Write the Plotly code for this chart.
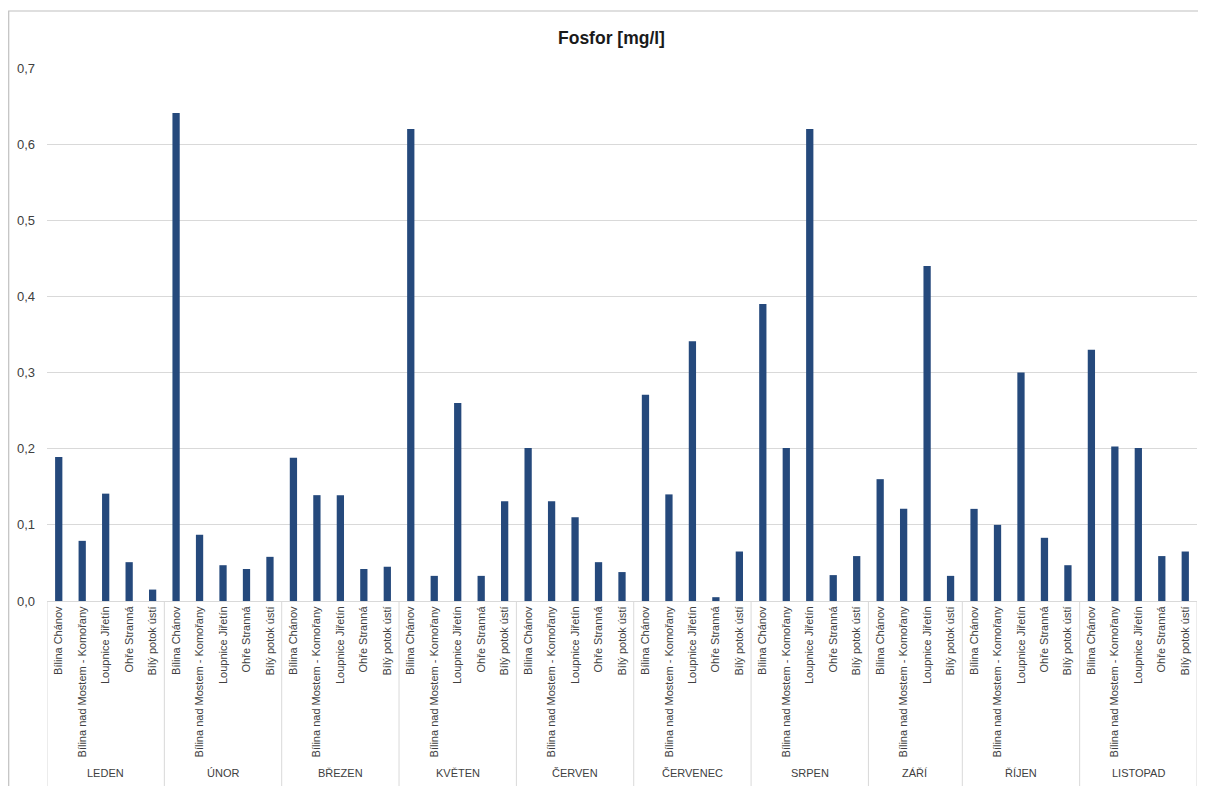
import plotly.graph_objects as go

months = ["LEDEN", "ÚNOR", "BŘEZEN", "KVĚTEN", "ČERVEN", "ČERVENEC", "SRPEN", "ZÁŘÍ", "ŘÍJEN", "LISTOPAD"]
stations = ["Bílina Chánov", "Bílina nad Mostem - Komořany", "Loupnice Jiřetín", "Ohře Stranná", "Bílý potok ústí"]

# values per month, in station order (None = no measurement)
leden = [0.189, 0.079, 0.141, 0.051, 0.015]
unor = [0.641, 0.087, 0.047, 0.042, 0.058]
brezen = [0.188, 0.139, 0.139, 0.042, 0.045]
kveten = [0.620, 0.033, 0.260, 0.033, 0.131]
cerven = [0.201, 0.131, 0.110, 0.051, 0.038]
cervenec = [0.271, 0.140, 0.341, 0.005, 0.065]
srpen = [0.390, 0.201, 0.620, 0.034, 0.059]
zari = [0.160, 0.121, 0.440, None, 0.033]
rijen = [0.121, 0.100, 0.300, 0.083, 0.047]
listopad = [0.330, 0.203, 0.201, 0.059, 0.065]

month_values = [leden, unor, brezen, kveten, cerven, cervenec, srpen, zari, rijen, listopad]

xs, ys, labels = [], [], []
group_bounds = []  # (start, end) index per month
i = 0
for vals in month_values:
    start = i
    for st, v in zip(stations, vals):
        if v is None:
            continue
        xs.append(i)
        ys.append(v)
        labels.append(st)
        i += 1
    group_bounds.append((start, i - 1))
n = i

BAR = "#25497C"
GRID = "#D9D9D9"
TXT = "#404040"
FONT = "Liberation Sans, Arial, sans-serif"

fig = go.Figure(go.Bar(x=xs, y=ys, marker=dict(color=BAR, line=dict(width=0)),
                       hoverinfo="x+y"))

# the page body adds an 8px offset; lay out in figure pixels accordingly
OFF = 8
W, H = 1206 - OFF, 786 - OFF
L, R, T, B = 47 - OFF, 9, 68 - OFF, 185
pw = W - L - R
ph = H - T - B
y_axis = T + ph  # figure-pixel y of the axis


def py(fig_px):
    return (y_axis - fig_px) / ph


def px(fig_px):
    return (fig_px - L) / pw


shapes = []
annotations = []
bounds_x = [-0.5] + [e + 0.5 for (s, e) in group_bounds]
for bx in bounds_x:
    shapes.append(dict(type="line", xref="x", yref="paper", x0=bx, x1=bx,
                       y0=0, y1=py(H + 2), line=dict(color=GRID, width=1)))
for m, (s, e) in zip(months, group_bounds):
    annotations.append(dict(text=m, xref="x", yref="paper", x=(s + e) / 2,
                            y=py(773 - OFF), showarrow=False,
                            font=dict(family=FONT, size=11, color=TXT),
                            xanchor="center", yanchor="middle"))
annotations.append(dict(text="<b>Fosfor [mg/l]</b>", xref="paper", yref="paper",
                        x=px(611.5 - OFF), y=py(38 - OFF), showarrow=False,
                        font=dict(family=FONT, size=17.5, color="#1a1a1a"),
                        xanchor="center", yanchor="middle"))
shapes.append(dict(type="rect", xref="paper", yref="paper",
                   x0=px(0.7), x1=px(W + 4),
                   y0=py(H + 4), y1=py(11 - OFF),
                   line=dict(color="#C0C0C0", width=1.2), fillcolor="rgba(0,0,0,0)",
                   layer="below"))

fig.update_layout(
    width=W, height=H,
    margin=dict(l=L, r=R, t=T, b=B, autoexpand=False),
    paper_bgcolor="white", plot_bgcolor="white",
    separators=", ",
    showlegend=False,
    bargap=0.69,
    shapes=shapes, annotations=annotations,
    font=dict(family=FONT, color=TXT),
)
fig.update_xaxes(range=[-0.5, n - 0.5], tickmode="array", tickvals=xs, ticktext=labels,
                 tickangle=-90, tickfont=dict(family=FONT, size=11, color=TXT),
                 showgrid=False, showline=True, linecolor=GRID, linewidth=1,
                 ticks="", ticklen=0, zeroline=False)
fig.update_yaxes(range=[0, 0.7], dtick=0.1, tickformat=".1f",
                 tickfont=dict(family=FONT, size=13, color=TXT),
                 showgrid=True, gridcolor=GRID, gridwidth=1, zeroline=False,
                 showline=False, ticks="", ticklabelstandoff=11)

fig.write_html("out.html")
